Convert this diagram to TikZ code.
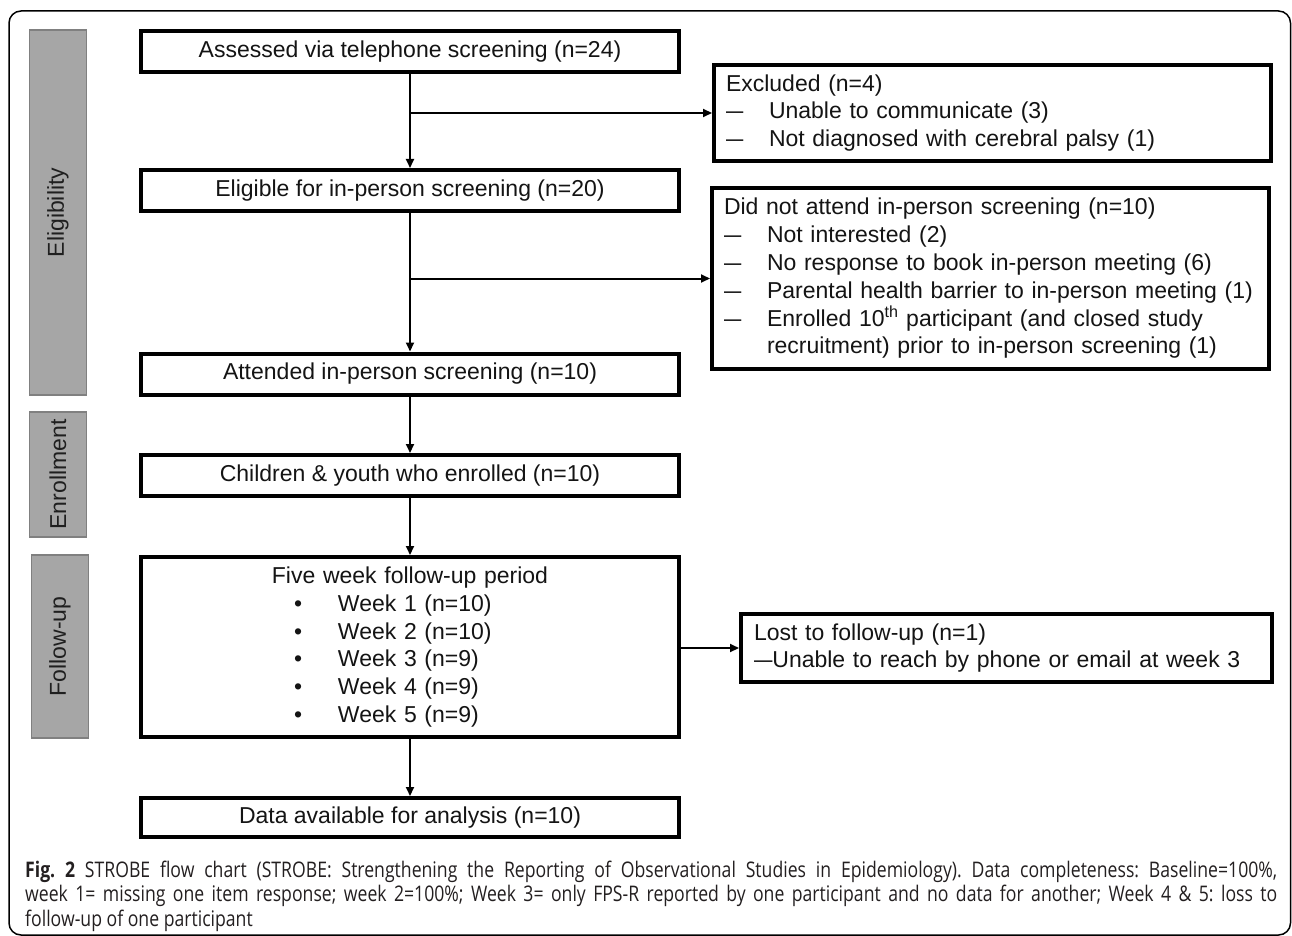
\documentclass[tikz,border=0pt]{standalone}
\usepackage{fontspec}
\setmainfont{Liberation Sans}
\newfontfamily\capfont[FakeStretch=0.82]{Open Sans}
\usetikzlibrary{arrows.meta}
\definecolor{sidegray}{RGB}{166,166,166}
\definecolor{sideedge}{RGB}{128,128,128}
\definecolor{txt}{RGB}{20,20,20}
\definecolor{captxt}{RGB}{35,31,32}
\newcommand{\dsh}{\makebox[43pt][l]{\scalebox{0.75}[1]{—}}}
\frenchspacing
\begin{document}
\begin{tikzpicture}[x=1pt,y=-1pt,
  mainbox/.style={draw=black, line width=4pt, fill=white, minimum width=538pt,
    minimum height=41pt, inner sep=0pt, text=txt, font=\fontsize{23}{27.8}\selectfont},
  sidebox/.style={draw=black, line width=4pt, fill=white, inner xsep=12pt, inner ysep=0pt,
    align=left, text=txt, font=\fontsize{23}{27.8}\selectfont},
  stage/.style={draw=sideedge, line width=1.5pt, fill=sidegray, rotate=90, inner sep=0pt,
    minimum height=57pt, text=black!88, font=\fontsize{23}{27}\selectfont},
  arr/.style={line width=2pt, -{Triangle[length=9pt,width=8pt]}},
  capline/.style={anchor=base west, inner sep=0pt, text=captxt, font=\capfont\fontsize{21.5}{24.5}\selectfont}
]
\useasboundingbox (0,0) rectangle (1292,936);
\draw[line width=1.5pt, rounded corners=12pt] (9,11) rectangle (1290.5,935);

% stage labels
\node[stage, minimum width=365pt] (elig) at (58,212.5) {Eligibility};
\node[stage, minimum width=125pt] (enrol) at (58,474.5) {Enrollment};
\node[stage, minimum width=183pt] (follow) at (60,646.5) {Follow-up};

% main column
\node[mainbox] (b1) at (410,51.5) {Assessed via telephone screening (n=24)};
\node[mainbox] (b2) at (410,190.5) {Eligible for in-person screening (n=20)};
\node[mainbox] (b3) at (410,374) {Attended in-person screening (n=10)};
\node[mainbox] (b4) at (410,475.5) {Children \& youth who enrolled (n=10)};
\node[mainbox, minimum height=180pt, text width=538pt, align=left] (b5) at (410,647)
  {\makebox[538pt][c]{Five week follow-up period}\\
   \hspace*{153pt}\makebox[44pt][l]{•}Week 1 (n=10)\\
   \hspace*{153pt}\makebox[44pt][l]{•}Week 2 (n=10)\\
   \hspace*{153pt}\makebox[44pt][l]{•}Week 3 (n=9)\\
   \hspace*{153pt}\makebox[44pt][l]{•}Week 4 (n=9)\\
   \hspace*{153pt}\makebox[44pt][l]{•}Week 5 (n=9)};
\node[mainbox, minimum height=39pt] (b6) at (410,817.5) {Data available for analysis (n=10)};

% side boxes
\node[sidebox, minimum width=557pt, minimum height=96pt, text width=533pt] (excl) at (992.5,113)
  {Excluded (n=4)\\
   \dsh Unable to communicate (3)\\
   \dsh Not diagnosed with cerebral palsy (1)};
\node[sidebox, minimum width=557pt, minimum height=181pt, text width=533pt] (dna) at (990.5,278.5)
  {Did not attend in-person screening (n=10)\\
   \dsh Not interested (2)\\
   \dsh No response to book in-person meeting (6)\\
   \dsh Parental health barrier to in-person meeting (1)\\
   \dsh Enrolled 10\textsuperscript{th} participant (and closed study\\
   \hspace*{43pt}recruitment) prior to in-person screening (1)};
\node[sidebox, minimum width=531pt, minimum height=68pt, text width=505pt] (lost) at (1006.5,648)
  {Lost to follow-up (n=1)\\
   \scalebox{0.8}[1]{—}Unable to reach by phone or email at week 3};

% connectors
\draw[arr] (b1) -- (b2);
\draw[arr] (b1.south |- excl.west) -- (excl.west);
\draw[arr] (b2) -- (b3);
\draw[arr] (b2.south |- dna.west) -- (dna.west);
\draw[arr] (b3) -- (b4);
\draw[arr] (b4) -- (b5);
\draw[arr] (b5.east |- lost.west) -- (lost.west);
\draw[arr] (b5) -- (b6);

% caption
\node[capline] (cap1) at (25,877) {\makebox[1252pt][s]{\textbf{Fig. 2} STROBE flow chart (STROBE: Strengthening the Reporting of Observational Studies in Epidemiology). Data completeness: Baseline=100\%,}};
\node[capline] (cap2) at (25,901.5) {\makebox[1252pt][s]{week 1= missing one item response; week 2=100\%; Week 3= only FPS-R reported by one participant and no data for another; Week 4 \& 5: loss to}};
\node[capline] (cap3) at (25,926) {follow-up of one participant};
\end{tikzpicture}
\end{document}
